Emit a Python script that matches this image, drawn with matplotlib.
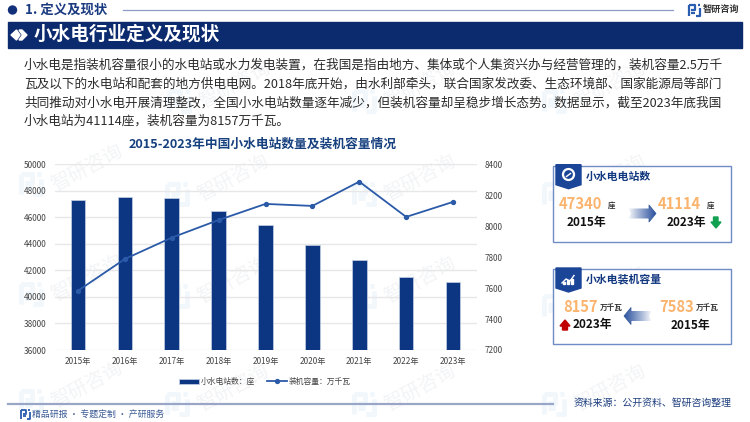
import numpy as np
import matplotlib
matplotlib.use("Agg")
import matplotlib.pyplot as plt
from matplotlib.patches import Polygon, Rectangle, Circle

plt.rcParams['font.family'] = ['Noto Sans CJK SC', 'DejaVu Sans']

years = ['2015年', '2016年', '2017年', '2018年', '2019年', '2020年', '2021年', '2022年', '2023年']
stations = [47340, 47510, 47460, 46480, 45400, 43920, 42760, 41500, 41114]
capacity = [7583, 7788, 7926, 8040, 8144, 8131, 8288, 8060, 8157]
left_ticks = [36000, 38000, 40000, 42000, 44000, 46000, 48000, 50000]
right_ticks = [7200, 7400, 7600, 7800, 8000, 8200, 8400]
body_lines = [
    '小水电是指装机容量很小的水电站或水力发电装置，在我国是指由地方、集体或个人集资兴办与经营管理的，装机容量2.5万千',
    '瓦及以下的水电站和配套的地方供电电网。2018年底开始，由水利部牵头，联合国家发改委、生态环境部、国家能源局等部门',
    '共同推动对小水电开展清理整改，全国小水电站数量逐年减少，但装机容量却呈稳步增长态势。数据显示，截至2023年底我国',
    '小水电站为41114座，装机容量为8157万千瓦。',
]

NAVY = '#0c3582'
fig = plt.figure(figsize=(7.5, 4.22), dpi=100, facecolor='white')
bg = fig.add_axes([0, 0, 1, 1], zorder=0)
bg.set_xlim(0, 750); bg.set_ylim(422, 0); bg.axis('off')


def logo(ax, x, y, s, color, alpha=1.0, lw=1.0, zorder=2):
    """Small bracket-shaped company mark, top-left at (x, y), size s."""
    segs = [[(x, y), (x + s * .55, y), (x + s * .55, y + s * .45), (x + s * .18, y + s * .45)],
            [(x, y), (x, y + s)],
            [(x + s * .18, y + s * .72), (x + s * .55, y + s * .72)],
            [(x + s * .78, y), (x + s, y)],
            [(x + s, y + s * .25), (x + s, y + s), (x + s * .62, y + s)]]
    for seg in segs:
        a = np.array(seg)
        ax.plot(a[:, 0], a[:, 1], color=color, lw=lw, alpha=alpha, solid_capstyle='butt', zorder=zorder)


# watermarks
wm = [(235, 85), (420, 85), (610, 85),
      (87, 168), (233, 178), (420, 178), (610, 178),
      (87, 278), (233, 280), (420, 280), (610, 290),
      (87, 385), (233, 388), (420, 388), (610, 388)]
for wx, wy in wm:
    bg.text(wx, wy, '智研咨询', fontsize=14, color='#f3f4f6', rotation=28,
            ha='center', va='center', zorder=0.5)
    logo(bg, wx - 66, wy + 6, 20, '#f1f7fb', lw=3.5, zorder=0.4)

# header
bg.add_patch(Circle((12.5, 10), 4, color='#12307a'))
bg.text(25, 10, '1. 定义及现状', fontsize=9.6, fontweight='bold', color='#1a3a80', va='center')
bg.plot([123, 673], [9.5, 9.5], color='#8a9cc4', lw=0.9)
logo(bg, 689, 5, 11, '#2a5db0', lw=1.6)
bg.text(703, 9.5, '智研咨询', fontsize=6.6, fontweight='bold', color='#333333', va='center')

# title bar
bg.add_patch(Rectangle((8, 22), 734, 26, color='#0c2a6e', zorder=1))
bg.add_patch(Polygon([(11, 35), (16.5, 30), (20, 35), (16.5, 40)], color='white', zorder=2))
bg.add_patch(Polygon([(19, 30), (22, 30), (27, 35), (22, 40), (19, 40), (22.5, 35)], color='white', zorder=2))
bg.text(33.5, 34.5, '小水电行业定义及现状', fontsize=13.4, fontweight='bold', color='white', va='center')

# body paragraph
for i, line in enumerate(body_lines):
    bg.text(24, 65.5 + i * 18.6, line, fontsize=9.13, color='#2a2a2a', va='center')

# chart title
bg.text(263, 144.5, '2015-2023年中国小水电站数量及装机容量情况', fontsize=9.15,
        fontweight='bold', color='#17407f', ha='center', va='center')

# chart
W, H = 750, 422
x0, x1, ytop, ybot = 54.5, 476.5, 164.3, 350
ax = fig.add_axes([x0 / W, 1 - ybot / H, (x1 - x0) / W, (ybot - ytop) / H], zorder=1)
ax.patch.set_alpha(0)
pos = np.arange(len(years))
bars = ax.bar(pos, stations, width=0.31, color=NAVY, edgecolor='#c6d2e6', linewidth=0.5,
              label='小水电站数：座', zorder=3)
ax.set_xlim(-0.5, 8.5)
ax.set_ylim(36000, 50000)
ax.set_yticks(left_ticks)
ax.set_xticks(pos, years)
ax.grid(axis='y', color='#e7e7e7', lw=1, zorder=0)
ax.set_axisbelow(True)
for s in ax.spines.values():
    s.set_visible(False)
ax.tick_params(length=0, labelsize=5.9, labelcolor='#444444')
ax.tick_params(axis='y', pad=6)
ax.tick_params(axis='x', pad=5)

ax2 = ax.twinx()
ax2.set_zorder(2)
ax2.patch.set_alpha(0)
line, = ax2.plot(pos, capacity, color='#2b5aa8', lw=1.3, marker='o', ms=2.8,
                 label='装机容量：万千瓦')
ax2.set_ylim(7200, 8400)
ax2.set_yticks(right_ticks)
for s in ax2.spines.values():
    s.set_visible(False)
ax2.tick_params(length=0, labelsize=5.9, labelcolor='#444444', pad=6)
ax2.legend([bars, line], [bars.get_label(), line.get_label()], loc='center', ncol=2,
           bbox_to_anchor=(265 / W, 1 - 382 / H), bbox_transform=fig.transFigure,
           frameon=False, fontsize=5.6, labelcolor='#444444', handlelength=2.5,
           handletextpad=0.25, columnspacing=1.6, borderpad=0)

# side panels


def gradient_arrow(axx, xa, xb, yc, hh, sh, head, rev=False):
    """Horizontal arrow with fade; xa is faded tail, xb is the tip."""
    d = 1 if xb > xa else -1
    poly = [(xa, yc - sh), (xb - d * head, yc - sh), (xb - d * head, yc - hh), (xb, yc),
            (xb - d * head, yc + hh), (xb - d * head, yc + sh), (xa, yc + sh),
            (xa + d * 3, yc)]
    grad = np.linspace(0, 1, 64).reshape(1, -1)
    c0, c1 = np.array([1, 1, 1.]), np.array([.17, .32, .62])
    img = (c0 + (c1 - c0) * grad[..., None] ** 0.9)
    im = axx.imshow(img if d > 0 else img[:, ::-1], extent=(min(xa, xb), max(xa, xb), yc + hh, yc - hh),
                    aspect='auto', zorder=3)
    im.set_clip_path(Polygon(poly, transform=axx.transData))
    axx.plot([p[0] for p in poly[1:6]], [p[1] for p in poly[1:6]], color='#2b5297', lw=0.5, zorder=4)
    axx.set_xlim(0, 750); axx.set_ylim(422, 0)


def panel(axx, y0, y1, title, ty):
    axx.add_patch(Rectangle((552.7, y0), 178, y1 - y0, fc='white', ec='#6f8cc6', lw=1, zorder=2))
    axx.add_patch(Polygon([(556, y0 - 1), (581, y0 - 1), (581, y0 + 19), (568.5, y0 + 23), (556, y0 + 19)],
                          color='#1b4597', zorder=3))
    axx.text(586, ty, title, fontsize=7.8, fontweight='bold', color='#12387f', va='center', zorder=4)


ORANGE = '#fbb46e'
panel(bg, 165.7, 241.7, '小水电电站数', 176.7)
bg.add_patch(Circle((568.5, 174.5), 5.5, fc='none', ec='white', lw=1.6, zorder=4))
bg.plot([566.5, 568.5, 570.5], [176.5, 175, 173.5], color='white', lw=1, zorder=4)
bg.text(559, 204, '47340', fontsize=10.6, fontweight='bold', color=ORANGE, va='center', zorder=4)
bg.text(607.5, 205, '座', fontsize=5.4, fontweight='bold', color='#333333', va='center', zorder=4)
bg.text(567, 222.5, '2015年', fontsize=8.5, fontweight='bold', color='#111111', va='center', zorder=4)
bg.text(658, 204, '41114', fontsize=10.6, fontweight='bold', color=ORANGE, va='center', zorder=4)
bg.text(706.5, 205, '座', fontsize=5.4, fontweight='bold', color='#333333', va='center', zorder=4)
bg.text(666.5, 222.5, '2023年', fontsize=8.5, fontweight='bold', color='#111111', va='center', zorder=4)
bg.add_patch(Polygon([(713.5, 217), (718, 217), (718, 222), (721, 222), (716, 228), (711, 222), (713.5, 222)],
                     color='#12a150', zorder=4))
gradient_arrow(bg, 628, 656, 213.5, 8.5, 5, 7)

panel(bg, 269, 344, '小水电装机容量', 279)
bg.plot([562, 566, 570, 574], [283, 279, 281, 275.5], color='white', lw=1, zorder=4)
for bx, bh in zip((563, 567, 571), (2, 3.5, 4.5)):
    bg.add_patch(Rectangle((bx, 283.5 - bh), 2, bh, color='white', zorder=4))
bg.text(563, 307, '8157', fontsize=10.6, fontweight='bold', color=ORANGE, va='center', zorder=4)
bg.text(600, 307.5, '万千瓦', fontsize=5.5, fontweight='bold', color='#333333', va='center', zorder=4)
bg.add_patch(Polygon([(565, 320), (570, 326), (567.5, 326), (567.5, 330), (562.5, 330), (562.5, 326), (560, 326)],
                     color='#c00000', zorder=4))
bg.text(573, 324.5, '2023年', fontsize=8.5, fontweight='bold', color='#111111', va='center', zorder=4)
bg.text(659, 307, '7583', fontsize=10.6, fontweight='bold', color=ORANGE, va='center', zorder=4)
bg.text(696, 307.5, '万千瓦', fontsize=5.5, fontweight='bold', color='#333333', va='center', zorder=4)
bg.text(671, 325, '2015年', fontsize=8.5, fontweight='bold', color='#111111', va='center', zorder=4)
gradient_arrow(bg, 652, 624, 316, 8.5, 5, 7)

# footer
bg.plot([8, 553], [403.7, 403.7], color='#9aa6c8', lw=1.6)
logo(bg, 21, 410, 9, '#2a5db0', lw=1.3)
bg.text(32, 414.5, '精品研报 · 专题定制 · 产研服务', fontsize=6.4, color='#3a5a95', va='center')
bg.text(574, 403, '资料来源：公开资料、智研咨询整理', fontsize=7.1, color='#1f3f7f', va='center')

fig.savefig('out.png', dpi=100)
